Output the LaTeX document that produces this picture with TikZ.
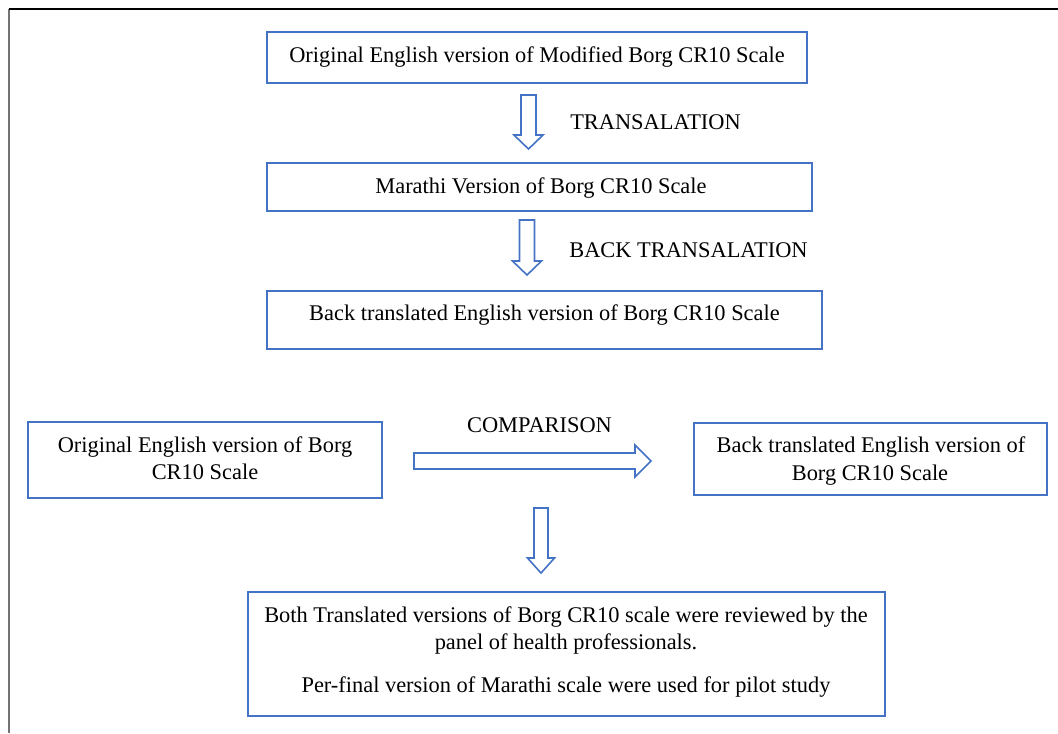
\documentclass[tikz,border=0pt]{standalone}
\usepackage{fontspec}
\setmainfont{Liberation Serif}
\definecolor{officeblue}{HTML}{4472C4}
\begin{document}
\begin{tikzpicture}[x=0.75pt,y=-0.75pt,
  box/.style={draw=officeblue,line width=1.3pt,fill=white,inner sep=0pt},
  txt/.style={font=\fontsize{16.8}{20.25}\selectfont,inner sep=0pt,anchor=base,text=black},
  blockarrow/.style={draw=officeblue,line width=1.2pt,fill=white,line join=miter}]
\useasboundingbox (0,0) rectangle (1058,733);
% frame
\draw[black!55,line width=1.5pt] (9,9) -- (9,733);
\draw[black,line width=1.5pt] (9,9) -- (1058,9);
% boxes
\node[box,minimum width=405pt,minimum height=38.25pt] (b1) at (537,57.5) {};
\node[box,minimum width=408.75pt,minimum height=36pt] (b2) at (539.5,187) {};
\node[box,minimum width=416.25pt,minimum height=43.5pt] (b3) at (544.5,320) {};
\node[box,minimum width=265.5pt,minimum height=57pt] (b4) at (205,460) {};
\node[box,minimum width=264.75pt,minimum height=54pt] (b5) at (870.5,459) {};
\node[box,minimum width=477.75pt,minimum height=93pt] (b6) at (566.5,654) {};
% texts
\node[txt] (t1) at (537,62) {Original English version of Modified Borg CR10 Scale};
\node[txt] (t2) at (541,193) {Marathi Version of Borg CR10 Scale};
\node[txt] (t3) at (544.5,320) {Back translated English version of Borg CR10 Scale};
\node[txt] (t4a) at (205,452) {Original English version of Borg};
\node[txt] (t4b) at (205,479) {CR10 Scale};
\node[txt] (t5a) at (871,452) {Back translated English version of};
\node[txt] (t5b) at (870,480) {Borg CR10 Scale};
\node[txt] (t6a) at (566,622) {Both Translated versions of Borg CR10 scale were reviewed by the};
\node[txt] (t6b) at (566,649) {panel of health professionals.};
\node[txt] (t6c) at (566,692) {Per-final version of Marathi scale were used for pilot study};
% labels
\node[txt] (l1) at (655.5,129) {TRANSALATION};
\node[txt] (l2) at (688.5,257) {BACK TRANSALATION};
\node[txt] (l3) at (539.5,432) {COMPARISON};
% block arrows
\coordinate (a1) at (528.5,95);
\coordinate (a2) at (527,220);
\coordinate (a3) at (541,508);
\coordinate (a4) at (414,461);
\draw[blockarrow] (a1) ++(-7.5,0) -- ++(15,0) -- ++(0,40) -- ++(7,0) -- ++(-14.5,14) -- ++(-14.5,-14) -- ++(7,0) -- cycle;
\draw[blockarrow] (a2) ++(-7.5,0) -- ++(15,0) -- ++(0,41) -- ++(7,0) -- ++(-14.5,14) -- ++(-14.5,-14) -- ++(7,0) -- cycle;
\draw[blockarrow] (a3) ++(-7,0) -- ++(14,0) -- ++(0,50) -- ++(6.5,0) -- ++(-13.5,15) -- ++(-13.5,-15) -- ++(6.5,0) -- cycle;
\draw[blockarrow] (a4) ++(0,-8) -- ++(221,0) -- ++(0,-8) -- ++(16,16) -- ++(-16,16) -- ++(0,-8) -- ++(-221,0) -- cycle;
\end{tikzpicture}
\end{document}
